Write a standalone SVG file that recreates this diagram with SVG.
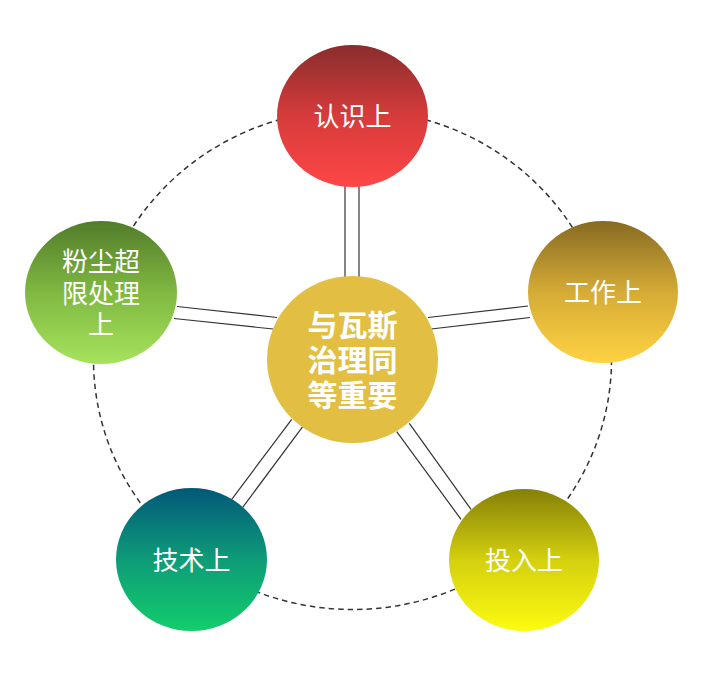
<svg xmlns="http://www.w3.org/2000/svg" width="719" height="694" viewBox="0 0 719 694">
  <style>
    .lbl { font-family: "Liberation Sans", "Noto Sans CJK SC", sans-serif; font-size: 26px; fill: #ffffff; text-anchor: middle; dominant-baseline: central; }
    .ctr { font-family: "Liberation Sans", "Noto Sans CJK SC", sans-serif; font-size: 30px; font-weight: 700; fill: #ffffff; text-anchor: middle; dominant-baseline: central; }
    .conn line { stroke: #333333; stroke-width: 1.2; }
    .ring { fill: none; stroke: #333333; stroke-width: 1.5; stroke-dasharray: 5.5 4; }
  </style>
  <defs>
    <linearGradient id="gRed" x1="0" y1="0" x2="0" y2="1">
      <stop offset="0" stop-color="#8a2d2d"/>
      <stop offset="0.5" stop-color="#d63b3b"/>
      <stop offset="1" stop-color="#ff4646"/>
    </linearGradient>
    <linearGradient id="gGold" x1="0" y1="0" x2="0" y2="1">
      <stop offset="0" stop-color="#876a22"/>
      <stop offset="0.5" stop-color="#d5ab36"/>
      <stop offset="1" stop-color="#ffd242"/>
    </linearGradient>
    <linearGradient id="gGreen" x1="0" y1="0" x2="0" y2="1">
      <stop offset="0" stop-color="#527c2b"/>
      <stop offset="0.5" stop-color="#80b841"/>
      <stop offset="1" stop-color="#a6e35c"/>
    </linearGradient>
    <linearGradient id="gTeal" x1="0" y1="0" x2="0" y2="1">
      <stop offset="0" stop-color="#025878"/>
      <stop offset="0.5" stop-color="#0e9c78"/>
      <stop offset="1" stop-color="#13cd6b"/>
    </linearGradient>
    <linearGradient id="gYellow" x1="0" y1="0" x2="0" y2="1">
      <stop offset="0" stop-color="#858008"/>
      <stop offset="0.5" stop-color="#d4d00e"/>
      <stop offset="1" stop-color="#fcfb10"/>
    </linearGradient>
  </defs>

  <ellipse class="ring" cx="352.5" cy="359.5" rx="259" ry="250"/>

  <g id="connectors" class="conn">
    <line x1="345" y1="186" x2="345" y2="278"/>
    <line x1="359" y1="186" x2="359" y2="278"/>
    <line x1="177" y1="306.5" x2="277" y2="317.5"/>
    <line x1="174" y1="318.5" x2="273" y2="329"/>
    <line x1="428" y1="317.5" x2="528" y2="306"/>
    <line x1="431" y1="329" x2="530" y2="317.5"/>
    <line x1="231.7" y1="499.3" x2="291.7" y2="419.3"/>
    <line x1="242.7" y1="507.3" x2="302.7" y2="426.7"/>
    <line x1="396.7" y1="431.7" x2="461" y2="519.3"/>
    <line x1="409.3" y1="423.3" x2="471" y2="509.3"/>
  </g>

  <g id="node-center">
    <ellipse cx="352.5" cy="359.5" rx="85.5" ry="83.5" fill="#e2bf42"/>
    <text class="ctr" x="352.5" y="325"><tspan x="352.5">与瓦斯</tspan><tspan x="352.5" dy="35">治理同</tspan><tspan x="352.5" dy="35">等重要</tspan></text>
  </g>

  <g id="node-top">
    <ellipse cx="352.5" cy="116" rx="75.5" ry="71" fill="url(#gRed)"/>
    <text class="lbl" x="352.5" y="117">认识上</text>
  </g>

  <g id="node-right">
    <ellipse cx="603" cy="292" rx="75" ry="71" fill="url(#gGold)"/>
    <text class="lbl" x="603" y="293">工作上</text>
  </g>

  <g id="node-left">
    <ellipse cx="101" cy="292.5" rx="76" ry="71.5" fill="url(#gGreen)"/>
    <text class="lbl" x="101" y="262"><tspan x="101">粉尘超</tspan><tspan x="101" dy="31.5">限处理</tspan><tspan x="101" dy="31.5">上</tspan></text>
  </g>

  <g id="node-bottom-left">
    <ellipse cx="191.5" cy="559.5" rx="75.5" ry="71.5" fill="url(#gTeal)"/>
    <text class="lbl" x="191.5" y="560.5">技术上</text>
  </g>

  <g id="node-bottom-right">
    <ellipse cx="524" cy="560" rx="75" ry="71" fill="url(#gYellow)"/>
    <text class="lbl" x="524" y="561">投入上</text>
  </g>
</svg>
